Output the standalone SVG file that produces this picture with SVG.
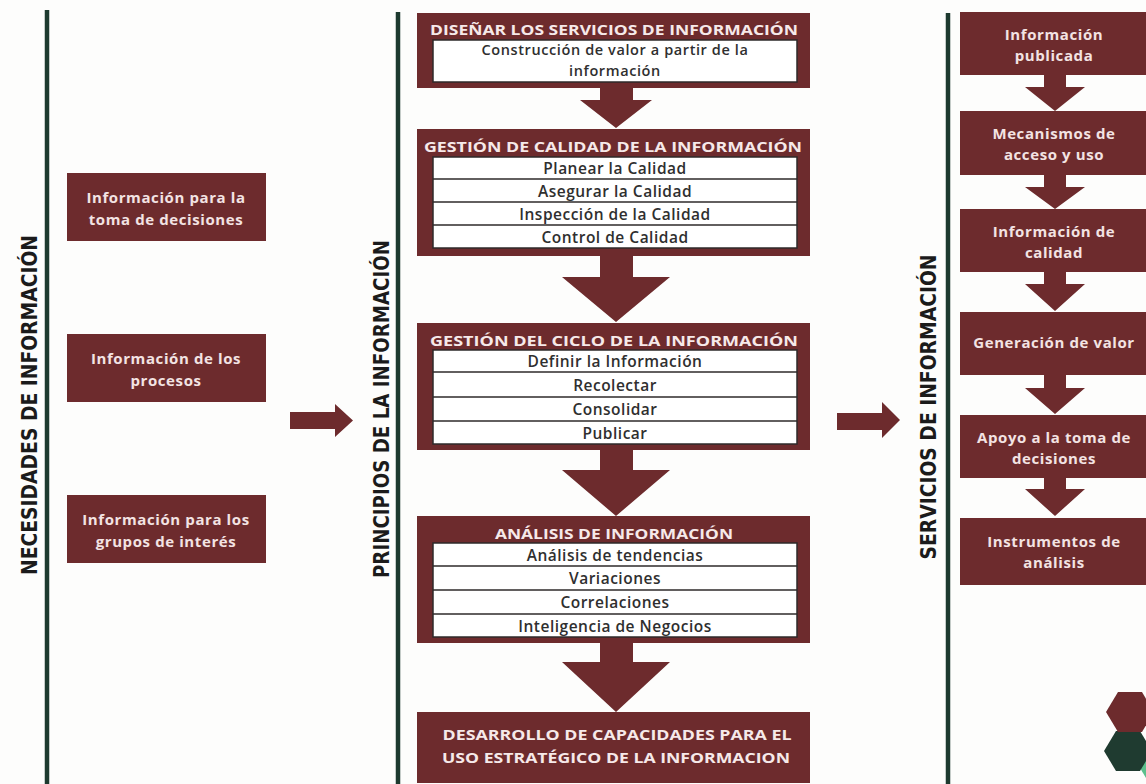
<svg xmlns="http://www.w3.org/2000/svg" width="1146" height="784" viewBox="0 0 1146 784">
<style>
.bg{fill:#fdfdfc}
.vline{stroke:#1d3a2f;stroke-width:4.5;fill:none}
.box{fill:#6d2b2d}
.arrow{fill:#6d2b2d}
.inner{fill:#ffffff;stroke:#2e2a2a;stroke-width:1.5}
.sep{stroke:#2e2a2a;stroke-width:1.5}
.vlabel{font-family:"DejaVu Sans Condensed","DejaVu Sans","Liberation Sans",sans-serif;font-weight:bold;font-stretch:condensed;font-size:21px;fill:#1b1b1b;text-anchor:middle}
.head{font-family:"Open Sans","Liberation Sans",sans-serif;font-weight:bold;font-size:13.5px;fill:#f6e9e9;text-anchor:middle}
.row{font-family:"Open Sans","Liberation Sans",sans-serif;font-weight:600;font-size:15.5px;letter-spacing:0.5px;fill:#2f2f2f;text-anchor:middle}
.row2{font-family:"Open Sans","Liberation Sans",sans-serif;font-weight:600;font-size:14.5px;letter-spacing:0.6px;fill:#2f2f2f;text-anchor:middle}
.btxt{font-family:"Open Sans","Liberation Sans",sans-serif;font-weight:bold;font-size:15px;letter-spacing:0.6px;fill:#f3e3e3;text-anchor:middle}
.hexr{fill:#6d2b2d}
.hexg{fill:#1f3b30}
.hexl{fill:#5cbf8c}
</style>
<rect class="bg" x="0" y="0" width="1146" height="784"/>

<g id="dividers">
<line class="vline" x1="47" y1="10" x2="47" y2="784"/>
<line class="vline" x1="398" y1="12" x2="398" y2="784"/>
<line class="vline" x1="948" y1="13" x2="948" y2="784"/>
</g>

<g id="labels">
<text class="vlabel" transform="translate(37,405) rotate(-90)" textLength="340" lengthAdjust="spacingAndGlyphs">NECESIDADES DE INFORMACIÓN</text>
<text class="vlabel" transform="translate(389,409) rotate(-90)" textLength="338" lengthAdjust="spacingAndGlyphs">PRINCIPIOS DE LA INFORMACIÓN</text>
<text class="vlabel" transform="translate(936,407) rotate(-90)" textLength="305" lengthAdjust="spacingAndGlyphs">SERVICIOS DE INFORMACIÓN</text>
</g>

<!-- Left column -->
<g id="need-decisiones">
<rect class="box" x="67" y="173" width="199" height="68"/>
<text class="btxt" x="166" y="203">Información para la</text>
<text class="btxt" x="166" y="225">toma de decisiones</text>
</g>
<g id="need-procesos">
<rect class="box" x="67" y="334" width="199" height="68"/>
<text class="btxt" x="166" y="364">Información de los</text>
<text class="btxt" x="166" y="386">procesos</text>
</g>
<g id="need-grupos">
<rect class="box" x="67" y="495" width="199" height="68"/>
<text class="btxt" x="166" y="525">Información para los</text>
<text class="btxt" x="166" y="547">grupos de interés</text>
</g>

<!-- Middle column -->
<g id="disenar">
<rect class="box" x="417" y="13" width="393" height="75"/>
<text class="head" x="614" y="35" textLength="368" lengthAdjust="spacingAndGlyphs">DISEÑAR LOS SERVICIOS DE INFORMACIÓN</text>
<rect class="inner" x="433" y="40" width="364" height="42"/>
<text class="row2" x="615" y="55">Construcción de valor a partir de la</text>
<text class="row2" x="615" y="76">información</text>
</g>

<g id="calidad">
<rect class="box" x="417" y="129" width="393" height="127"/>
<text class="head" x="613" y="152" textLength="378" lengthAdjust="spacingAndGlyphs">GESTIÓN DE CALIDAD DE LA INFORMACIÓN</text>
<rect class="inner" x="433" y="157" width="364" height="91"/>
<line class="sep" x1="433" y1="179" x2="797" y2="179"/>
<line class="sep" x1="433" y1="202" x2="797" y2="202"/>
<line class="sep" x1="433" y1="225" x2="797" y2="225"/>
<text class="row" x="615" y="173.5">Planear la Calidad</text>
<text class="row" x="615" y="196.5">Asegurar la Calidad</text>
<text class="row" x="615" y="219.5">Inspección de la Calidad</text>
<text class="row" x="615" y="242.5">Control de Calidad</text>
</g>

<g id="ciclo">
<rect class="box" x="417" y="323" width="393" height="127"/>
<text class="head" x="614" y="346" textLength="368" lengthAdjust="spacingAndGlyphs">GESTIÓN DEL CICLO DE LA INFORMACIÓN</text>
<rect class="inner" x="433" y="350" width="364" height="94"/>
<line class="sep" x1="433" y1="372" x2="797" y2="372"/>
<line class="sep" x1="433" y1="397" x2="797" y2="397"/>
<line class="sep" x1="433" y1="421" x2="797" y2="421"/>
<text class="row" x="615" y="366.5">Definir la Información</text>
<text class="row" x="615" y="390.5">Recolectar</text>
<text class="row" x="615" y="414.5">Consolidar</text>
<text class="row" x="615" y="438.5">Publicar</text>
</g>

<g id="analisis">
<rect class="box" x="417" y="516" width="393" height="127"/>
<text class="head" x="614" y="539" textLength="238" lengthAdjust="spacingAndGlyphs">ANÁLISIS DE INFORMACIÓN</text>
<rect class="inner" x="433" y="543" width="364" height="94"/>
<line class="sep" x1="433" y1="566" x2="797" y2="566"/>
<line class="sep" x1="433" y1="590" x2="797" y2="590"/>
<line class="sep" x1="433" y1="614" x2="797" y2="614"/>
<text class="row" x="615" y="560.5">Análisis de tendencias</text>
<text class="row" x="615" y="583.5">Variaciones</text>
<text class="row" x="615" y="607.5">Correlaciones</text>
<text class="row" x="615" y="631.5">Inteligencia de Negocios</text>
</g>

<g id="desarrollo">
<rect class="box" x="417" y="712" width="393" height="71"/>
<text class="head" x="617" y="740" textLength="349" lengthAdjust="spacingAndGlyphs">DESARROLLO DE CAPACIDADES PARA EL</text>
<text class="head" x="616" y="763" textLength="348" lengthAdjust="spacingAndGlyphs">USO ESTRATÉGICO DE LA INFORMACION</text>
</g>

<!-- Right column -->
<g id="srv-publicada">
<rect class="box" x="960" y="12" width="190" height="63"/>
<text class="btxt" x="1054" y="40">Información</text>
<text class="btxt" x="1054" y="61">publicada</text>
</g>
<g id="srv-mecanismos">
<rect class="box" x="960" y="111" width="190" height="64"/>
<text class="btxt" x="1054" y="139">Mecanismos de</text>
<text class="btxt" x="1054" y="160">acceso y uso</text>
</g>
<g id="srv-calidad">
<rect class="box" x="960" y="209" width="190" height="63"/>
<text class="btxt" x="1054" y="237">Información de</text>
<text class="btxt" x="1054" y="258">calidad</text>
</g>
<g id="srv-valor">
<rect class="box" x="960" y="312" width="190" height="63"/>
<text class="btxt" x="1054" y="348">Generación de valor</text>
</g>
<g id="srv-apoyo">
<rect class="box" x="960" y="415" width="190" height="63"/>
<text class="btxt" x="1054" y="443">Apoyo a la toma de</text>
<text class="btxt" x="1054" y="464">decisiones</text>
</g>
<g id="srv-instrumentos">
<rect class="box" x="960" y="518" width="190" height="67"/>
<text class="btxt" x="1054" y="547">Instrumentos de</text>
<text class="btxt" x="1054" y="568">análisis</text>
</g>

<g id="connectors">
<polygon class="arrow" points="290,412 335,412 335,404 353,420.5 335,437 335,429 290,429"/>
<polygon class="arrow" points="837,413 882,413 882,402 900,420 882,438 882,430 837,430"/>
<polygon class="arrow" points="600,88 633,88 633,100 652,100 616,128 580,100 600,100"/>
<polygon class="arrow" points="600,256 633,256 633,277 670,277 616,322 562,277 600,277"/>
<polygon class="arrow" points="600,450 633,450 633,470 670,470 616,516 562,470 600,470"/>
<polygon class="arrow" points="600,643 633,643 633,662 670,662 616,712 562,662 600,662"/>
<polygon class="arrow" points="1044,75 1066,75 1066,87 1085,87 1055,111 1025,87 1044,87"/>
<polygon class="arrow" points="1044,175 1066,175 1066,187 1085,187 1055,209 1025,187 1044,187"/>
<polygon class="arrow" points="1044,272 1066,272 1066,284 1085,284 1055,311 1025,284 1044,284"/>
<polygon class="arrow" points="1044,375 1066,375 1066,388 1085,388 1055,414 1025,388 1044,388"/>
<polygon class="arrow" points="1044,478 1066,478 1066,489 1085,489 1055,516 1025,489 1044,489"/>
</g>

<g id="decor">
<polygon class="hexl" points="1146,742 1140,752 1140,768 1146,778"/>
<polygon class="hexg" points="1152,751 1140,731 1116,731 1104,751 1116,771 1140,771"/>
<polygon class="hexr" points="1154,712 1142,692 1118,692 1106,712 1118,732 1142,732"/>
</g>
</svg>
